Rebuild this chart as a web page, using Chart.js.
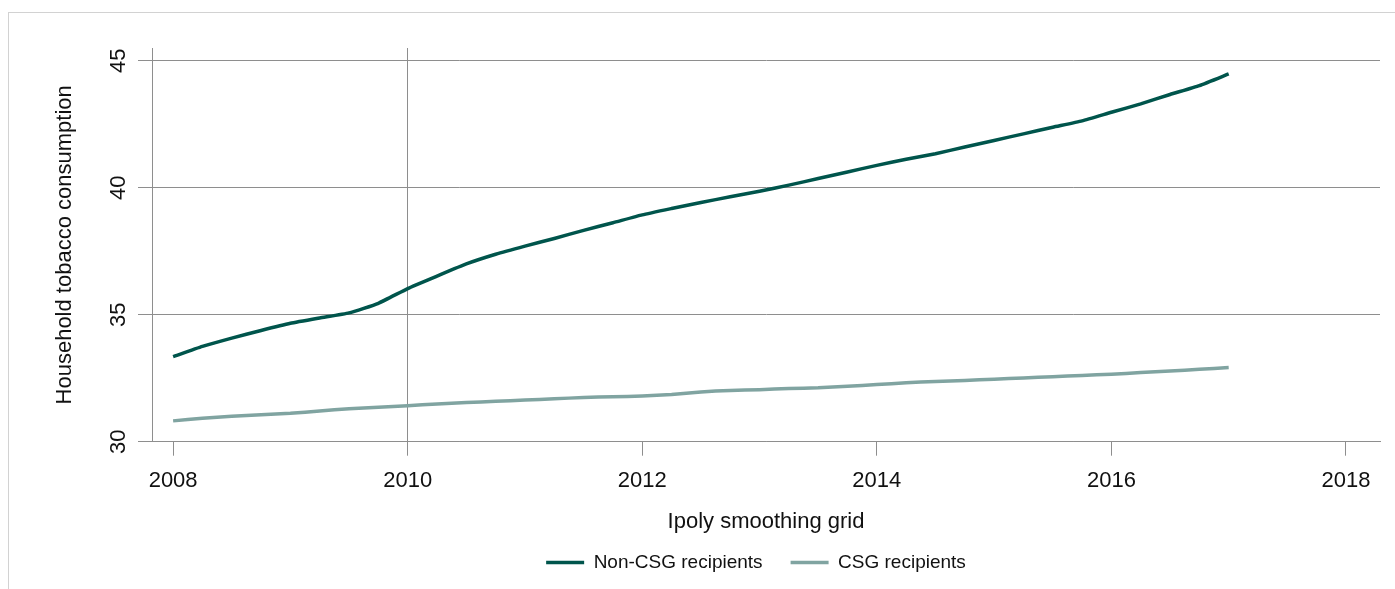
<!DOCTYPE html>
<html>
<head>
<meta charset="utf-8">
<title>Household tobacco consumption</title>
<script src="https://cdn.jsdelivr.net/npm/chart.js@4.4.1/dist/chart.umd.min.js"></script>
<style>
  html, body { margin: 0; padding: 0; overflow: hidden; background: #fff; width: 1395px; height: 589px; }
  #frame { position: absolute; left: 8px; top: 12px; width: 2000px; height: 2000px; border: 1px solid #d2d2d2; box-sizing: border-box; }
  #chart { position: absolute; left: 0; top: 0; }
</style>
</head>
<body>
<div id="frame"></div>
<canvas id="chart" width="1512" height="582"></canvas>
<script>
// Smoothing grid (years)
const gridYears = [
  2008.00, 2008.25, 2008.50, 2008.75, 2009.00, 2009.25, 2009.50, 2009.75,
  2010.00, 2010.25, 2010.50, 2010.75, 2011.00, 2011.25, 2011.50, 2011.75,
  2012.00, 2012.25, 2012.50, 2012.75, 2013.00, 2013.25, 2013.50, 2013.75,
  2014.00, 2014.25, 2014.50, 2014.75, 2015.00, 2015.25, 2015.50, 2015.75,
  2016.00, 2016.25, 2016.50, 2016.75, 2017.00
];

// Smoothed household tobacco consumption
const nonCsgValues = [
  33.35, 33.75, 34.08, 34.38, 34.66, 34.87, 35.07, 35.45,
  36.03, 36.52, 37.00, 37.38, 37.70, 38.00, 38.32, 38.62,
  38.93, 39.18, 39.42, 39.64, 39.86, 40.10, 40.36, 40.62,
  40.88, 41.12, 41.34, 41.60, 41.86, 42.12, 42.38, 42.63,
  42.97, 43.30, 43.67, 44.02, 44.48
];
const csgValues = [
  30.82, 30.92, 31.00, 31.06, 31.12, 31.21, 31.30, 31.36,
  31.42, 31.48, 31.54, 31.59, 31.64, 31.69, 31.74, 31.77,
  31.80, 31.86, 31.96, 32.02, 32.05, 32.09, 32.12, 32.18,
  32.25, 32.32, 32.37, 32.41, 32.46, 32.51, 32.56, 32.61,
  32.66, 32.72, 32.78, 32.85, 32.92
];

// Axis ticks
const xTickValues = [2008, 2010, 2012, 2014, 2016, 2018];
const yTickValues = [30, 35, 40, 45];
const referenceYear = 2010;

const DARK = '#00554c';
const LIGHT = '#80a4a1';
const GRID = '#8e8e8e';
const TEXT = '#111111';
const FONT = '"Liberation Sans", Arial, Helvetica, sans-serif';

const toPoints = (xs, ys) => xs.map((x, i) => ({ x: x, y: ys[i] }));

// Rotated value labels on the left axis
const yLabelPlugin = {
  id: 'yRotatedLabels',
  afterDraw(chart) {
    const s = chart.scales.y;
    const c = chart.ctx;
    c.save();
    c.font = '22px ' + FONT;
    c.fillStyle = TEXT;
    c.textAlign = 'center';
    c.textBaseline = 'alphabetic';
    s.ticks.forEach(t => {
      const py = s.getPixelForValue(t.value);
      c.save();
      c.translate(s.right - 27.5, py);
      c.rotate(-Math.PI / 2);
      c.fillText(String(t.value), 0, 0);
      c.restore();
    });
    c.restore();
  }
};

new Chart(document.getElementById('chart'), {
  type: 'line',
  data: {
    datasets: [
      {
        label: 'Non-CSG recipients',
        data: toPoints(gridYears, nonCsgValues),
        borderColor: DARK,
        backgroundColor: DARK,
        borderWidth: 3.5,
        pointRadius: 0,
        pointStyle: 'line',
        tension: 0.15,
        fill: false
      },
      {
        label: 'CSG recipients',
        data: toPoints(gridYears, csgValues),
        borderColor: LIGHT,
        backgroundColor: LIGHT,
        borderWidth: 3.5,
        pointRadius: 0,
        pointStyle: 'line',
        tension: 0.15,
        fill: false
      }
    ]
  },
  options: {
    responsive: false,
    animation: false,
    layout: { padding: { left: 0, right: 0, top: 48, bottom: 0 } },
    plugins: {
      tooltip: { enabled: false },
      legend: {
        position: 'bottom',
        labels: {
          usePointStyle: true,
          pointStyle: 'line',
          pointStyleWidth: 38,
          padding: 28,
          color: TEXT,
          font: { family: FONT, size: 19 }
        }
      }
    },
    scales: {
      x: {
        type: 'linear',
        min: 2007.82,
        max: 2018.29,
        afterBuildTicks: s => { s.ticks = xTickValues.map(v => ({ value: v })); },
        afterFit: s => { s.height = 83.3; },
        ticks: {
          autoSkip: false,
          maxRotation: 0,
          padding: 12,
          color: TEXT,
          font: { family: FONT, size: 22 },
          callback: v => String(v)
        },
        grid: {
          color: ctx => (ctx.tick && ctx.tick.value === referenceYear) ? GRID : 'rgba(0,0,0,0)',
          tickColor: GRID,
          tickLength: 14,
          lineWidth: 1
        },
        border: { color: GRID, width: 1 },
        title: {
          display: true,
          text: 'Ipoly smoothing grid',
          color: TEXT,
          font: { family: FONT, size: 22, lineHeight: 1 },
          padding: { top: 0, bottom: -7.5 }
        }
      },
      y: {
        type: 'linear',
        min: 30,
        max: 45.5,
        afterBuildTicks: s => { s.ticks = yTickValues.map(v => ({ value: v })); },
        afterFit: s => { s.width = 152; },
        ticks: { display: false },
        grid: { color: GRID, tickColor: GRID, tickLength: 14, lineWidth: 1 },
        border: { color: GRID, width: 1 },
        title: {
          display: true,
          text: 'Household tobacco consumption',
          color: TEXT,
          font: { family: FONT, size: 22, lineHeight: 1.2 },
          padding: { top: 51.8, bottom: 0 }
        }
      },
      // empty right-hand margin axis
      yRight: {
        type: 'linear',
        position: 'right',
        display: true,
        afterFit: s => { s.width = 132; },
        ticks: { display: false },
        grid: { display: false, drawTicks: false },
        border: { display: false }
      }
    }
  },
  plugins: [yLabelPlugin]
});
</script>
</body>
</html>
